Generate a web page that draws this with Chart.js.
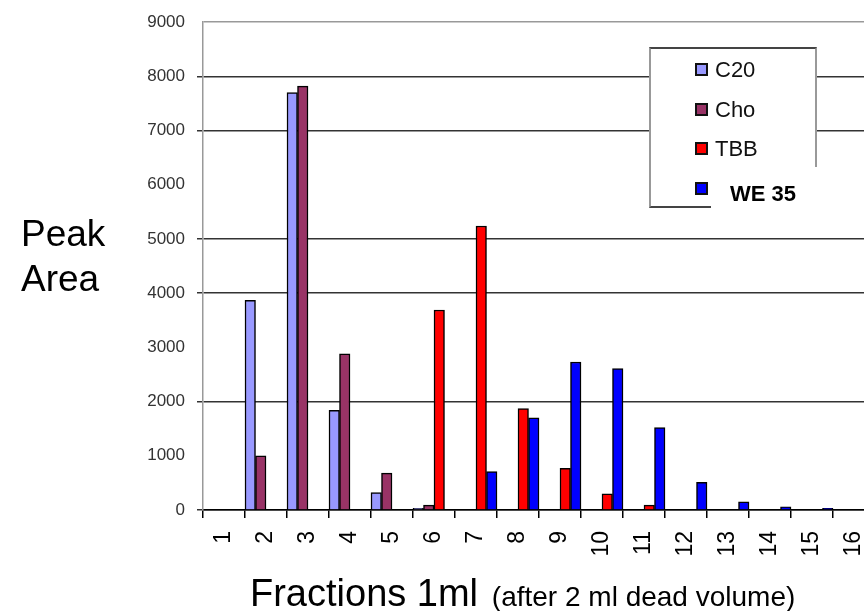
<!DOCTYPE html>
<html>
<head>
<meta charset="utf-8">
<script src="https://cdn.jsdelivr.net/npm/chart.js@4.4.1/dist/chart.umd.min.js"></script>
<style>
  html, body { margin: 0; padding: 0; background: #fff; width: 864px; height: 611px; overflow: hidden; }
  body { position: relative; font-family: 'Liberation Sans', Arial, sans-serif; color: #000; }
  #wrap { position: absolute; left: 0; top: 0; width: 875px; height: 611px; }
  #ylabel { position: absolute; left: 21px; top: 211px; font-size: 37px; line-height: 45px; }
  #xlabel { position: absolute; left: 250px; top: 573px; font-size: 38px; line-height: 40px; white-space: nowrap; }
  #xlabel .sub { font-size: 28px; margin-left: 6px; }
  #legend {
    position: absolute; left: 649px; top: 47px; width: 164px; height: 157px;
    background: #fff; border-top: 2px solid #444; border-bottom: 2px solid #444;
    border-left: 2px solid #999; border-right: 2px solid #999;
  }
  .row { position: absolute; left: 44px; height: 13px; display: flex; align-items: center; }
  .sw { width: 13px; height: 13px; box-sizing: border-box; border: 2px solid #111; }
  .txt { margin-left: 7px; font-size: 22px; line-height: 13px; color: #111; }
  #lastlabel {
    position: absolute; left: 711px; top: 167px; width: 112px; height: 46px; background: #fff;
  }
  #lastlabel span { position: absolute; left: 19px; top: 20px; font-size: 22px; line-height: 14px; font-weight: bold; }
</style>
</head>
<body>
<div id="wrap"><canvas id="chart" width="875" height="611"></canvas></div>
<div id="ylabel">Peak<br>Area</div>
<div id="xlabel">Fractions 1ml<span class="sub"> (after 2 ml dead volume)</span></div>
<div id="legend"></div>
<div id="lastlabel"></div>
<script>
// ─── data ───
const FRACTIONS = ['1','2','3','4','5','6','7','8','9','10','11','12','13','14','15','16'];
const SERIES    = ['C20', 'Cho', 'TBB', 'WE 35'];
const C20  = [0, 3870, 7700, 1840, 320, 30, 0, 0, 0, 0, 0, 0, 0, 0, 0, 0];
const CHO  = [0, 1000, 7820, 2880, 680, 90, 0, 0, 0, 0, 0, 0, 0, 0, 0, 0];
const TBB  = [0, 0, 0, 0, 0, 3690, 5240, 1870, 770, 300, 90, 0, 0, 0, 0, 0];
const WE35 = [0, 0, 0, 0, 0, 0, 710, 1700, 2730, 2610, 1520, 510, 150, 60, 30, 0];
const Y_TICKS = [0, 1000, 2000, 3000, 4000, 5000, 6000, 7000, 8000, 9000];
const Y_LINES = [0, 2000, 4000, 5000, 7000, 8000];   // gridlines visible in the original

const COLORS = ['#9999ff', '#993366', '#ff0000', '#0000ff'];
const VALUES = [C20, CHO, TBB, WE35];

Chart.defaults.font.family = "'Liberation Sans', Arial, sans-serif";

const datasets = SERIES.map((name, i) => ({
  label: name,
  data: VALUES[i],
  backgroundColor: COLORS[i],
  borderColor: '#000',
  borderWidth: 1.5,
  categoryPercentage: 1,
  barPercentage: 1,
}));

const yMax = Y_TICKS[Y_TICKS.length - 1];

new Chart(document.getElementById('chart'), {
  type: 'bar',
  data: { labels: FRACTIONS, datasets },
  options: {
    responsive: false,
    animation: false,
    devicePixelRatio: 1,
    layout: { padding: { top: 15, left: 0, right: 0, bottom: 0 } },
    plugins: { legend: { display: false }, tooltip: { enabled: false } },
    scales: {
      x: {
        offset: true,
        // fixed height, and no extra side padding so the plot runs to the canvas edge
        afterFit: s => { s.height = 101; s.paddingLeft = 0; s.paddingRight = 0; },
        border: { color: '#000', width: 1.5 },
        grid: { offset: true, drawOnChartArea: false, tickLength: 8, tickColor: '#000', lineWidth: 1.5 },
        ticks: { minRotation: 90, maxRotation: 90, autoSkip: false, padding: 13, color: '#000', font: { size: 23 } }
      },
      y: {
        min: 0, max: yMax,
        afterFit: s => { s.width = 203; },
        afterBuildTicks: s => { s.ticks = Y_TICKS.map(v => ({ value: v })); },
        border: { color: '#999', width: 1.5 },
        grid: {
          lineWidth: 1.5, tickLength: 6,
          color: c => c.tick && c.tick.value === yMax ? '#999' : (Y_LINES.includes(c.tick && c.tick.value) ? '#333' : 'rgba(0,0,0,0)'),
          tickColor: c => Y_LINES.includes(c.tick && c.tick.value) ? '#333' : 'rgba(0,0,0,0)'
        },
        ticks: { padding: 12, color: '#333', font: { size: 17 }, callback: v => String(v) }
      }
    }
  }
});

// ─── legend (Excel-style box, last entry label sits on a white patch) ───
const legend = document.getElementById('legend');
SERIES.forEach((name, i) => {
  const row = document.createElement('div');
  row.className = 'row';
  row.style.top = (14 + i * 39.5) + 'px';
  const sw = document.createElement('div');
  sw.className = 'sw';
  sw.style.background = COLORS[i];
  row.appendChild(sw);
  if (i < SERIES.length - 1) {
    const t = document.createElement('span');
    t.className = 'txt';
    t.textContent = name;
    row.appendChild(t);
  }
  legend.appendChild(row);
});
const last = document.createElement('span');
last.textContent = SERIES[SERIES.length - 1];
document.getElementById('lastlabel').appendChild(last);
</script>
</body>
</html>
